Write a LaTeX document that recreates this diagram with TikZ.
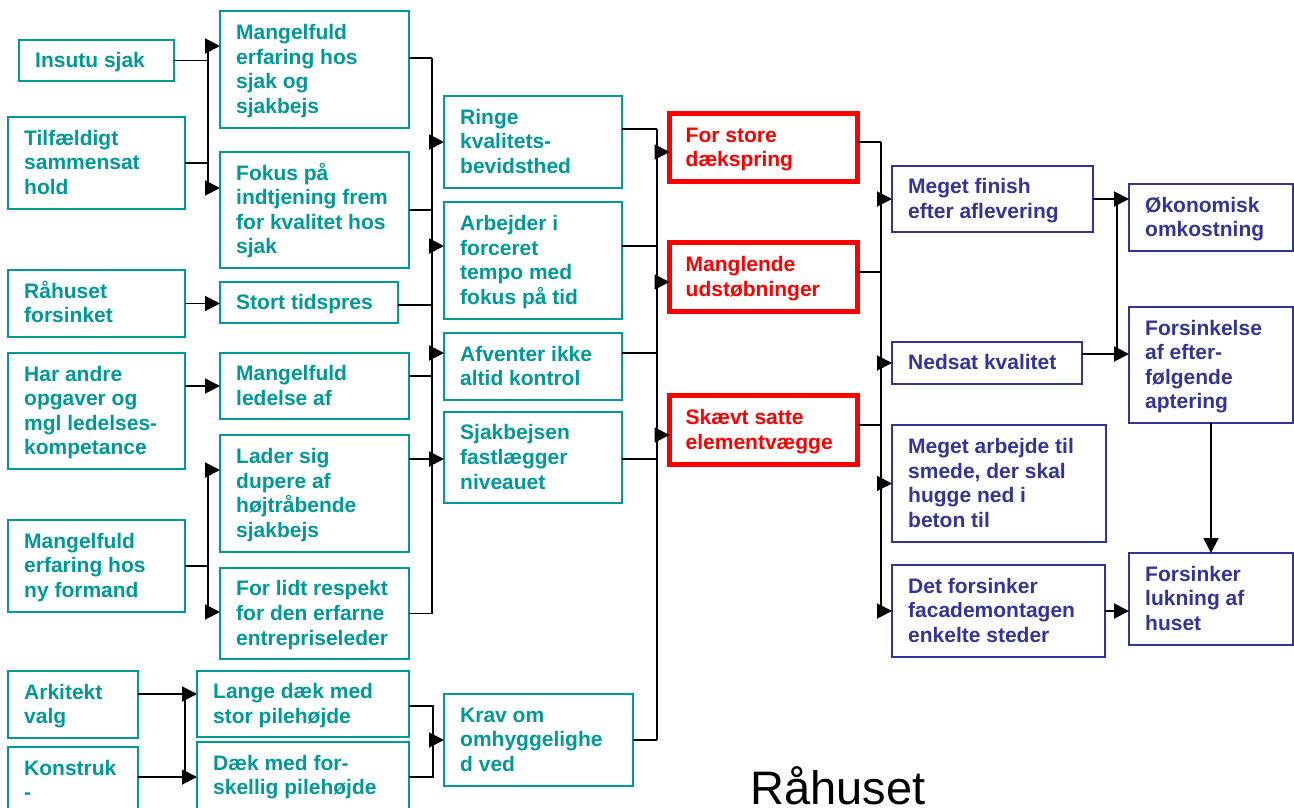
\documentclass[tikz,border=0pt]{standalone}
\usepackage{fontspec}
\setmainfont{Liberation Sans}
\usetikzlibrary{arrows.meta}
\definecolor{tealc}{RGB}{0,153,153}
\definecolor{bluec}{RGB}{51,51,153}
\definecolor{redc}{RGB}{255,0,0}
\newcommand\bx[7]{%
  \node[#1, minimum width=#5pt, minimum height=#6pt, anchor=north west] (#2) at (#3,#4) {};
  \node[#1 txt, anchor=west, yshift=-2pt] at ([xshift=16pt]#2.west) {\strut #7\strut};
}
\begin{document}
\begin{tikzpicture}[x=1pt,y=-1pt,
  boxfont/.style={font=\bfseries\fontsize{21}{24.6}\selectfont, align=left, inner sep=0pt},
  tl/.style={draw=tealc, line width=1.8pt, inner sep=0pt, outer sep=0pt},
  tl txt/.style={boxfont, text=tealc},
  rd/.style={draw=redc, line width=5pt, inner sep=0pt, outer sep=0pt},
  rd txt/.style={boxfont, text=redc},
  bl/.style={draw=bluec, line width=1.8pt, inner sep=0pt, outer sep=0pt},
  bl txt/.style={boxfont, text=bluec},
  ln/.style={line width=1.9pt, black},
  arr/.style={ln, -{Triangle[length=15pt,width=15pt]}}]
\useasboundingbox (0,0) rectangle (1294,808);
\fill[white] (0,0) rectangle (1294,808);
\clip (0,0) rectangle (1294,808);

% column 1
\bx{tl}{ins}{19}{40}{155}{41}{Insutu sjak}
\bx{tl}{tilf}{8}{117}{177}{92}{Tilfældigt\\sammensat\\hold}
\bx{tl}{rah}{8}{270}{177}{67}{Råhuset\\forsinket}
\bx{tl}{har}{8}{353}{177}{116}{Har andre\\opgaver og\\mgl ledelses-\\kompetance}
\bx{tl}{nyf}{8}{520}{177}{92}{Mangelfuld\\erfaring hos\\ny formand}
\bx{tl}{ark}{8}{671}{130}{67}{Arkitekt\\valg}
\bx{tl}{kon}{8}{747}{130}{67}{Konstruk\\-}

% column 2
\bx{tl}{mes}{220}{11}{189}{117}{Mangelfuld\\erfaring hos\\sjak og\\sjakbejs}
\bx{tl}{fok}{220}{152}{189}{116}{Fokus på\\indtjening frem\\for kvalitet hos\\sjak}
\bx{tl}{stort}{220}{282}{178}{41}{Stort tidspres}
\bx{tl}{mled}{220}{353}{189}{66}{Mangelfuld\\ledelse af}
\bx{tl}{lader}{220}{435}{189}{117}{Lader sig\\dupere af\\højtråbende\\sjakbejs}
\bx{tl}{lidt}{220}{568}{189}{91}{For lidt respekt\\for den erfarne\\entrepriseleder}
\bx{tl}{lange}{197}{671}{212}{66}{Lange dæk med\\stor pilehøjde}
\bx{tl}{daek}{197}{742}{212}{67}{Dæk med for-\\skellig pilehøjde}

% column 3
\bx{tl}{ringe}{444}{96}{178}{92}{Ringe\\kvalitets-\\bevidsthed}
\bx{tl}{arb}{444}{202}{178}{117}{Arbejder i\\forceret\\tempo med\\fokus på tid}
\bx{tl}{afv}{444}{333}{178}{67}{Afventer ikke\\altid kontrol}
\bx{tl}{sjak}{444}{412}{178}{91}{Sjakbejsen\\fastlægger\\niveauet}
\bx{tl}{krav}{444}{694}{189}{92}{Krav om\\omhyggelighe\\d ved}

% column 4 (red)
\bx{rd}{fstore}{669.5}{113.5}{188}{68}{For store\\dækspring}
\bx{rd}{mangl}{669.5}{242.5}{188}{69}{Manglende\\udstøbninger}
\bx{rd}{skaev}{669.5}{395.5}{188}{69}{Skævt satte\\elementvægge}

% column 5 (blue)
\bx{bl}{finish}{892}{166}{201}{66}{Meget finish\\efter aflevering}
\bx{bl}{nedsat}{892}{342}{190}{42}{Nedsat kvalitet}
\bx{bl}{arbejde}{892}{425}{214}{117}{Meget arbejde til\\smede, der skal\\hugge ned i\\beton til}
\bx{bl}{facade}{892}{565}{213}{92}{Det forsinker\\facademontagen\\enkelte steder}

% column 6 (blue)
\bx{bl}{okon}{1129}{184}{164}{67}{Økonomisk\\omkostning}
\bx{bl}{fors}{1129}{307}{164}{116}{Forsinkelse\\af efter-\\følgende\\aptering}
\bx{bl}{luk}{1129}{553}{164}{92}{Forsinker\\lukning af\\huset}

\node[font=\fontsize{47}{50}\selectfont, anchor=base west, inner sep=0pt, text depth=0pt] (title) at (750,804) {Råhuset};

% junction coordinates
\coordinate (A1) at (208,46);  \coordinate (A2) at (208,188);
\coordinate (C1) at (208,470); \coordinate (C2) at (208,612);
\coordinate (D1) at (185,694); \coordinate (D2) at (185,777);
\coordinate (B0) at (432,58);  \coordinate (B3) at (432,305);
\coordinate (B4) at (432,376); \coordinate (B5) at (432,459);
\coordinate (B6) at (432,246); \coordinate (B7) at (432,353);
\coordinate (E1) at (433,706); \coordinate (E2) at (433,777);
\coordinate (F0) at (657,129); \coordinate (F2) at (657,246);
\coordinate (F3) at (657,353); \coordinate (F4) at (657,459);
\coordinate (Fa) at (657,152); \coordinate (Fb) at (657,282);
\coordinate (Fc) at (657,435);
\coordinate (G1) at (881,142); \coordinate (G2) at (881,272);
\coordinate (G3) at (881,425);
\coordinate (H2) at (1117,354);

% group A
\draw[ln] (ins.east) -- (ins.east -| A1);
\draw[ln] (tilf.east) -- (tilf.east -| A1);
\draw[ln] (A1) -- (A2);
\draw[arr] (A1) -- (A1 -| mes.west);
\draw[arr] (A2) -- (A2 -| fok.west);

% single arrows
\draw[arr] (rah.east) -- (rah.east -| stort.west);
\draw[arr] (har.east |- mled.west) -- (mled.west);

% group C
\draw[ln] (nyf.east) -- (nyf.east -| C1);
\draw[ln] (C1) -- (C2);
\draw[arr] (C1) -- (C1 -| lader.west);
\draw[arr] (C2) -- (C2 -| lidt.west);

% group B
\draw[ln] (mes.east |- B0) -- (B0);
\draw[ln] (fok.east) -- (fok.east -| B0);
\draw[ln] (stort.east |- B3) -- (B3);
\draw[ln] (mled.east |- B4) -- (B4);
\draw[ln] (lader.east |- B5) -- (B5);
\draw[ln] (lidt.east) -- (lidt.east -| B0);
\draw[ln] (B0) -- (B0 |- lidt.east);
\draw[arr] (ringe.west -| B0) -- (ringe.west);
\draw[arr] (B6) -- (B6 -| arb.west);
\draw[arr] (B7) -- (B7 -| afv.west);
\draw[arr] (B5) -- (B5 -| sjak.west);

% group D
\draw[ln] (ark.east |- D1) -- (D1);
\draw[ln] (kon.east |- D2) -- (D2);
\draw[ln] (D1) -- (D2);
\draw[arr] (D1) -- (D1 -| lange.west);
\draw[arr] (D2) -- (D2 -| daek.west);

% group E
\draw[ln] (lange.east |- E1) -- (E1) -- (E2) -- (daek.east |- E2);
\draw[arr] (krav.west -| E1) -- (krav.west);

% group F
\draw[ln] (ringe.east |- F0) -- (F0);
\draw[ln] (arb.east |- F2) -- (F2);
\draw[ln] (afv.east |- F3) -- (F3);
\draw[ln] (sjak.east |- F4) -- (F4);
\draw[ln] (krav.east) -- (krav.east -| F0);
\draw[ln] (F0) -- (F0 |- krav.east);
\draw[arr] (Fa) -- (Fa -| fstore.west);
\draw[arr] (Fb) -- (Fb -| mangl.west);
\draw[arr] (Fc) -- (Fc -| skaev.west);

% group G
\draw[ln] (fstore.east |- G1) -- (G1);
\draw[ln] (mangl.east |- G2) -- (G2);
\draw[ln] (skaev.east |- G3) -- (G3);
\draw[ln] (G1) -- (G1 |- facade.west);
\draw[arr] (G1 |- finish.west) -- (finish.west);
\draw[arr] (G1 |- nedsat.west) -- (nedsat.west);
\draw[arr] (G1 |- arbejde.west) -- (arbejde.west);
\draw[arr] (G1 |- facade.west) -- (facade.west);

% group H
\draw[arr] (finish.east) -- (finish.east -| okon.west);
\draw[ln] (nedsat.east |- H2) -- (H2);
\draw[ln] (H2 |- finish.east) -- (H2);
\draw[arr] (H2) -- (H2 -| fors.west);
\draw[arr] (fors.south) -- (luk.north);
\draw[arr] (facade.east) -- (facade.east -| luk.west);
\end{tikzpicture}
\end{document}
